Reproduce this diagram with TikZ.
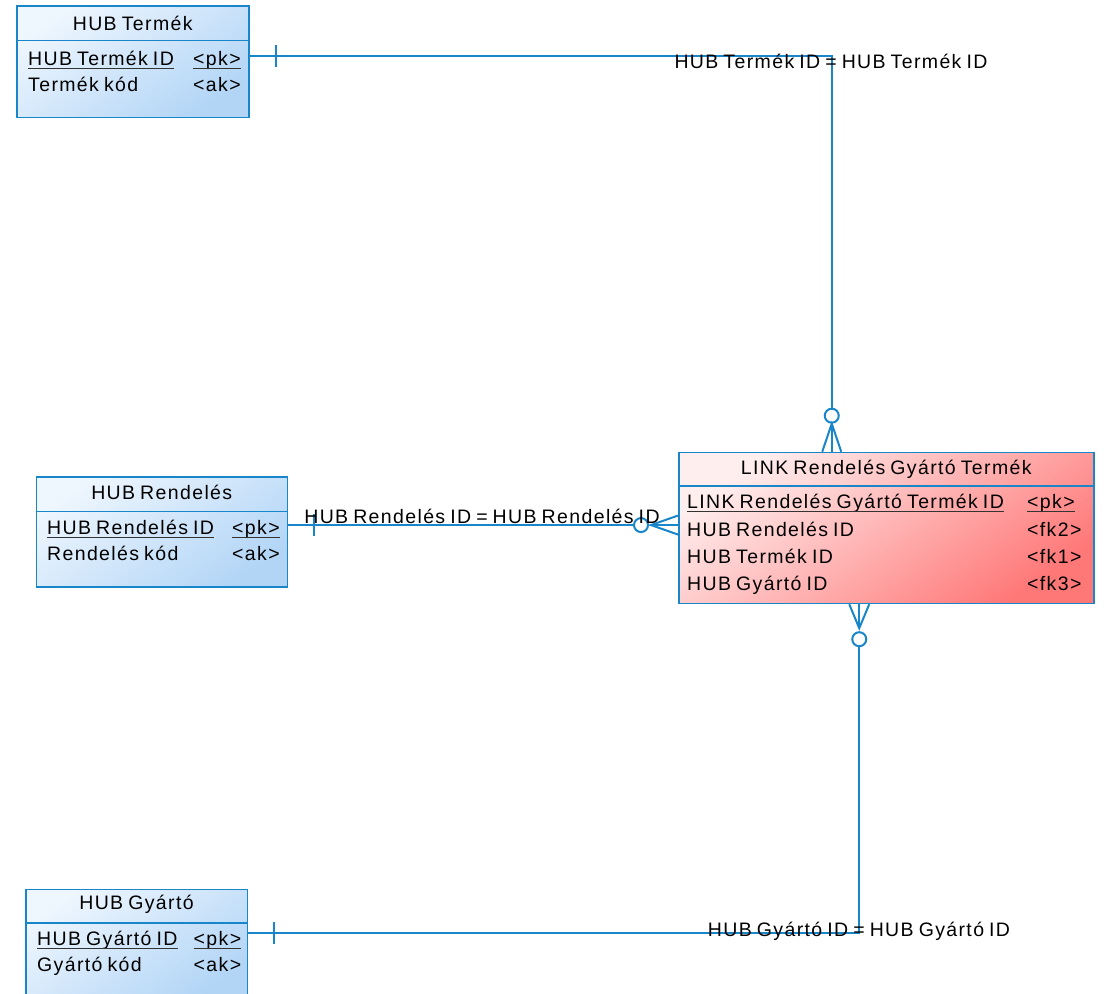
\documentclass[tikz,border=0pt]{standalone}
\usepackage{fontspec}
\setmainfont{Liberation Sans}[LetterSpace=7,WordSpace=0.75]
\usetikzlibrary{positioning}

\definecolor{erblue}{RGB}{24,134,200}
\definecolor{hubtop}{RGB}{238,246,254}
\definecolor{hubbottom}{RGB}{178,213,246}
\definecolor{linktop}{RGB}{255,238,238}
\definecolor{linkbottom}{RGB}{255,120,120}

\tikzset{
  ent/.style={draw=erblue,line width=1.5pt,rectangle,inner sep=0pt,anchor=north west,
    top color=hubtop,bottom color=hubbottom,shading angle=35},
  linkent/.style={ent,top color=linktop,bottom color=linkbottom,shading angle=35},
  divider/.style={draw=erblue,line width=1.5pt},
  enttitle/.style={font=\fontsize{19.5}{22}\selectfont,inner sep=0pt,anchor=base},
  attr/.style={font=\fontsize{19.5}{22}\selectfont,inner sep=0pt,anchor=base west},
  uline/.style={draw=black!80,line width=1pt},
  rel/.style={draw=erblue,line width=2pt},
  rellabel/.style={font=\fontsize{19.5}{22}\selectfont,inner sep=0pt,anchor=base}
}

\begin{document}
\begin{tikzpicture}[x=1pt,y=-1pt]
\useasboundingbox (0,0) rectangle (1104,994);

% entities
\node[ent,minimum width=232pt,minimum height=111.5pt] (termek) at (16,5) {};
\draw[divider] ([yshift=-35.5pt]termek.north west) -- ([yshift=-35.5pt]termek.north east);
\node[enttitle] (termek-t) at ([yshift=-25pt]termek.north) {HUB Termék};
\node[attr] (tid) at ([xshift=12pt,yshift=-60pt]termek.north west) {HUB Termék ID};
\node[attr] (tidk) at ([xshift=177pt,yshift=-60pt]termek.north west) {<pk>};
\node[attr] (tkod) at ([xshift=12pt,yshift=-86pt]termek.north west) {Termék kód};
\node[attr] (tkodk) at ([xshift=177pt,yshift=-86pt]termek.north west) {<ak>};
\draw[uline] ([yshift=-3pt]tid.base west) -- ([yshift=-3pt]tid.base east);
\draw[uline] ([yshift=-3pt]tidk.base west) -- ([yshift=-3pt]tidk.base east);

\node[ent,minimum width=251pt,minimum height=110pt] (rendeles) at (35.5,476) {};
\draw[divider] ([yshift=-35.5pt]rendeles.north west) -- ([yshift=-35.5pt]rendeles.north east);
\node[enttitle] (rendeles-t) at ([yshift=-23.5pt]rendeles.north) {HUB Rendelés};
\node[attr] (rid) at ([xshift=11.5pt,yshift=-58pt]rendeles.north west) {HUB Rendelés ID};
\node[attr] (ridk) at ([xshift=196.5pt,yshift=-58pt]rendeles.north west) {<pk>};
\node[attr] (rkod) at ([xshift=11.5pt,yshift=-84.5pt]rendeles.north west) {Rendelés kód};
\node[attr] (rkodk) at ([xshift=196.5pt,yshift=-84.5pt]rendeles.north west) {<ak>};
\draw[uline] ([yshift=-3pt]rid.base west) -- ([yshift=-3pt]rid.base east);
\draw[uline] ([yshift=-3pt]ridk.base west) -- ([yshift=-3pt]ridk.base east);

\node[ent,minimum width=221.5pt,minimum height=110pt] (gyarto) at (25,888.5) {};
\draw[divider] ([yshift=-34.5pt]gyarto.north west) -- ([yshift=-34.5pt]gyarto.north east);
\node[enttitle] (gyarto-t) at ([yshift=-21pt]gyarto.north) {HUB Gyártó};
\node[attr] (gid) at ([xshift=12pt,yshift=-56.5pt]gyarto.north west) {HUB Gyártó ID};
\node[attr] (gidk) at ([xshift=168.5pt,yshift=-56.5pt]gyarto.north west) {<pk>};
\node[attr] (gkod) at ([xshift=12pt,yshift=-82.5pt]gyarto.north west) {Gyártó kód};
\node[attr] (gkodk) at ([xshift=168.5pt,yshift=-82.5pt]gyarto.north west) {<ak>};
\draw[uline] ([yshift=-3pt]gid.base west) -- ([yshift=-3pt]gid.base east);
\draw[uline] ([yshift=-3pt]gidk.base west) -- ([yshift=-3pt]gidk.base east);

\node[linkent,minimum width=415pt,minimum height=151pt] (link) at (678,451.7) {};
\draw[divider] ([yshift=-34.3pt]link.north west) -- ([yshift=-34.3pt]link.north east);
\node[enttitle] (link-t) at ([yshift=-22.3pt]link.north) {LINK Rendelés Gyártó Termék};
\node[attr] (l0) at ([xshift=9pt,yshift=-56.6pt]link.north west) {LINK Rendelés Gyártó Termék ID};
\node[attr] (k0) at ([xshift=349pt,yshift=-56.6pt]link.north west) {<pk>};
\draw[uline] ([yshift=-3pt]l0.base west) -- ([yshift=-3pt]l0.base east);
\draw[uline] ([yshift=-3pt]k0.base west) -- ([yshift=-3pt]k0.base east);
\foreach \a/\k [count=\n] in {HUB Rendelés ID/<fk2>,HUB Termék ID/<fk1>,HUB Gyártó ID/<fk3>}
  {
  \node[attr] (l\n) at ([xshift=9pt,yshift=-85pt-27pt*(\n-1)]link.north west) {\a};
  \node[attr] (k\n) at ([xshift=349pt,yshift=-85pt-27pt*(\n-1)]link.north west) {\k};
  }

% relationships
\coordinate (te) at ([yshift=5.7pt]termek.east);
\coordinate (lt) at ([xshift=-54.5pt]link.north);
\draw[rel] (te) -| ([yshift=43pt]lt);
\draw[rel] ([xshift=26pt,yshift=11pt]te) -- ([xshift=26pt,yshift=-11pt]te);
\draw[rel,fill=white] ([yshift=36pt]lt) circle (7pt);
\draw[rel] ([xshift=-9.5pt]lt) -- ([yshift=28pt]lt) -- ([xshift=9.5pt]lt);
\draw[rel] ([yshift=28pt]lt) -- (lt);
\node[rellabel] (lab1) at (831,68) {HUB Termék ID = HUB Termék ID};

\coordinate (re) at ([yshift=6.7pt]rendeles.east);
\coordinate (lw) at (link.west |- re);
\draw[rel] (re) -- ([xshift=-44pt]lw);
\draw[rel] ([xshift=26pt,yshift=11pt]re) -- ([xshift=26pt,yshift=-11pt]re);
\draw[rel,fill=white] ([xshift=-37pt]lw) circle (7pt);
\draw[rel] ([yshift=9.5pt]lw) -- ([xshift=-27pt]lw) -- ([yshift=-9.5pt]lw);
\draw[rel] ([xshift=-27pt]lw) -- (lw);
\node[rellabel] (lab2) at (482,523.3) {HUB Rendelés ID = HUB Rendelés ID};

\coordinate (lb) at ([xshift=-27pt]link.south);
\coordinate (ge) at ([yshift=11.5pt]gyarto.east);
\draw[rel] ([yshift=-42pt]lb) |- (ge);
\draw[rel] ([xshift=26pt,yshift=11pt]ge) -- ([xshift=26pt,yshift=-11pt]ge);
\draw[rel,fill=white] ([yshift=-35pt]lb) circle (7pt);
\draw[rel] ([xshift=-10pt]lb) -- ([yshift=-24pt]lb) -- ([xshift=10pt]lb);
\draw[rel] ([yshift=-24pt]lb) -- (lb);
\node[rellabel] (lab3) at (859,936.7) {HUB Gyártó ID = HUB Gyártó ID};
\end{tikzpicture}
\end{document}
